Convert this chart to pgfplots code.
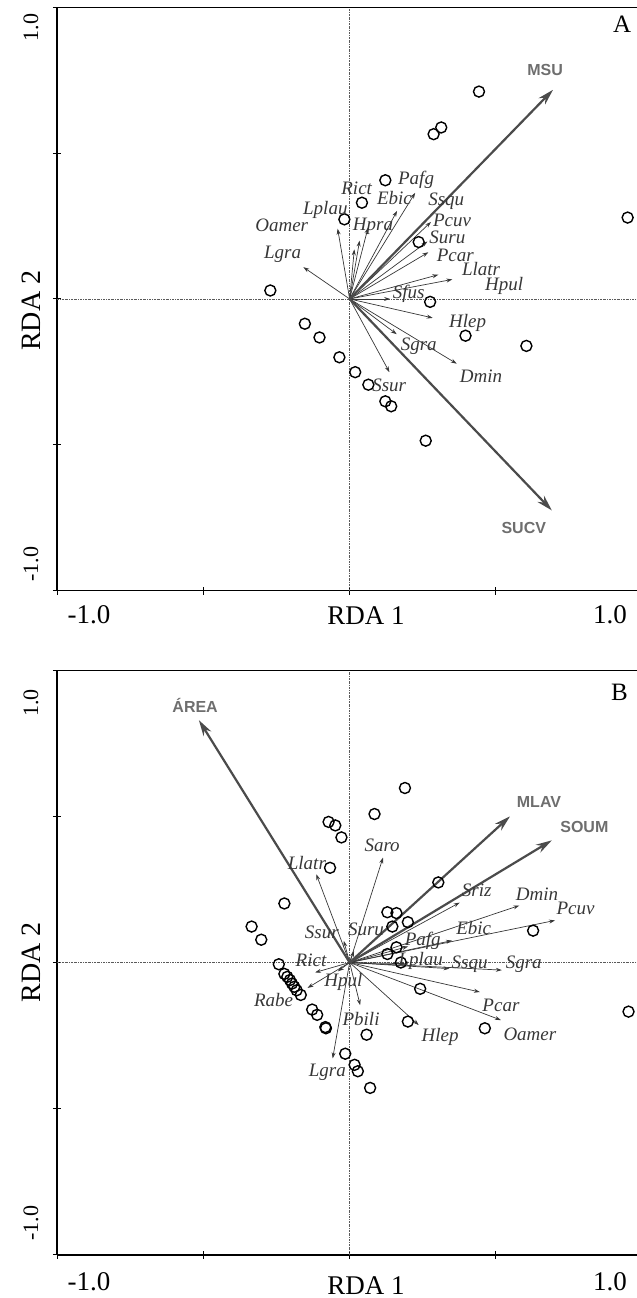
\documentclass[border=0pt]{standalone}
\usepackage{fontspec}
\setmainfont{Liberation Serif}
\newfontfamily\arialfont{Liberation Sans}
\usepackage{pgfplots}
\pgfplotsset{compat=1.18}
\usetikzlibrary{arrows.meta}
\definecolor{arr}{RGB}{55,55,55}
\definecolor{big}{RGB}{75,75,75}
\definecolor{envlab}{RGB}{110,110,110}
\definecolor{zero}{RGB}{90,90,90}

\pgfplotstableread{
x y
0.442 0.711
0.313 0.588
0.287 0.565
0.950 0.279
0.122 0.407
0.042 0.330
-0.018 0.273
0.236 0.195
-0.271 0.029
0.275 -0.010
-0.153 -0.085
-0.103 -0.132
0.396 -0.126
0.604 -0.161
-0.035 -0.200
0.019 -0.251
0.064 -0.294
0.122 -0.351
0.142 -0.368
0.260 -0.486
}\sitesA

\pgfplotstableread{
x y u v
0 0 -0.158 0.109
0 0 -0.041 0.241
0 0 0.016 0.170
0 0 0.034 0.200
0 0 0.063 0.245
0 0 0.162 0.302
0 0 0.224 0.364
0 0 0.278 0.264
0 0 0.266 0.197
0 0 0.269 0.160
0 0 0.303 0.083
0 0 0.351 0.067
0 0 0.138 0.000
0 0 0.284 -0.065
0 0 0.161 -0.121
0 0 0.366 -0.222
0 0 0.136 -0.251
}\speA

\pgfplotstableread{
x y u v
0 0 0.695 0.717
0 0 0.691 -0.725
}\envA

\pgfplotstableread{
x y lab
0.227 0.409 Pafg
0.024 0.381 Rict
0.153 0.346 Ebic
0.330 0.334 Ssqu
-0.083 0.305 Lplau
0.350 0.270 Pcuv
-0.232 0.252 Oamer
0.080 0.248 Hpra
0.334 0.210 Suru
0.361 0.150 Pcar
-0.229 0.153 Lgra
0.449 0.101 Llatr
0.528 0.045 Hpul
0.202 0.017 Sfus
0.403 -0.081 Hlep
0.236 -0.162 Sgra
0.449 -0.266 Dmin
0.135 -0.295 Ssur
}\labA

\pgfplotstableread{
x y lab
0.668 0.784 MSU
0.595 -0.785 SUCV
}\envlabA

\pgfplotstableread{
x y
0.189 0.597
0.085 0.508
-0.072 0.481
-0.049 0.469
-0.028 0.428
-0.067 0.324
0.303 0.274
-0.223 0.202
0.129 0.172
0.160 0.169
0.199 0.138
0.146 0.123
-0.335 0.123
-0.302 0.078
0.627 0.109
0.160 0.052
0.129 0.029
0.175 0.000
-0.242 -0.006
-0.223 -0.039
-0.213 -0.049
-0.204 -0.060
-0.197 -0.072
-0.189 -0.083
-0.181 -0.095
-0.167 -0.111
0.241 -0.090
-0.128 -0.161
-0.111 -0.179
-0.083 -0.221
-0.081 -0.225
0.199 -0.202
0.462 -0.225
0.953 -0.168
0.058 -0.247
-0.015 -0.312
0.017 -0.350
0.028 -0.372
0.070 -0.429
}\sitesB

\pgfplotstableread{
x y u v
0 0 0.114 0.359
0 0 -0.114 0.302
0 0 -0.020 0.074
0 0 0.015 0.040
0 0 0.376 0.205
0 0 0.580 0.195
0 0 0.702 0.144
0 0 0.350 0.075
0 0 0.200 0.055
0 0 0.190 -0.004
0 0 0.341 -0.021
0 0 0.520 -0.026
0 0 0.445 -0.101
0 0 0.517 -0.197
0 0 0.236 -0.214
0 0 0.036 -0.146
0 0 -0.058 -0.328
0 0 -0.118 -0.034
0 0 -0.144 -0.087
0 0 -0.040 -0.030
}\speB

\pgfplotstableread{
x y u v
0 0 -0.515 0.829
0 0 0.548 0.500
0 0 0.691 0.418
}\envB

\pgfplotstableread{
x y lab
0.111 0.402 Saro
-0.146 0.342 Llatr
0.434 0.248 Sriz
0.640 0.234 Dmin
0.772 0.184 Pcuv
0.424 0.119 Ebic
-0.095 0.102 Ssur
0.056 0.115 Suru
0.250 0.075 Pafg
-0.132 0.009 Rict
0.243 0.004 Lplau
0.410 -0.006 Ssqu
0.595 -0.006 Sgra
-0.021 -0.068 Hpul
-0.260 -0.128 Rabe
0.517 -0.146 Pcar
0.039 -0.193 Pbili
0.616 -0.244 Oamer
0.309 -0.254 Hlep
-0.076 -0.376 Lgra
}\labB

\pgfplotstableread{
x y lab
-0.528 0.880 ÁREA
0.647 0.548 MLAV
0.802 0.464 SOUM
}\envlabB

\pgfplotsset{
  rdastyle/.style={
    scale only axis, width=580bp,
    xmin=-1, xmax=0.982, ymin=-1, ymax=1,
    axis x line*=bottom, axis y line*=left,
    axis line style={line width=1.4bp, black},
    xtick={-1,-0.5,0,0.5}, ytick={-1,-0.5,0,0.5,1},
    xticklabels={}, yticklabels={},
    tick align=center, major tick length=8bp,
    tick style={line width=1bp, black},
    clip=false,
  },
  zeroline/.style={draw=zero, line width=0.6bp, dash pattern=on 2bp off 1bp on 0.6bp off 1bp},
  spe/.style={quiver={u=\thisrow{u},v=\thisrow{v}}, -{Stealth[length=6bp,width=4bp]}, draw=arr, line width=0.7bp},
  env/.style={quiver={u=\thisrow{u},v=\thisrow{v}}, -{Stealth[length=16bp,width=9bp]}, draw=big, line width=2.2bp},
  site/.style={only marks, mark=o, mark size=5.5bp, mark options={line width=1.4bp, draw=black}},
  labs/.style={only marks, mark=none, nodes near coords, point meta=explicit symbolic,
    nodes near coords style={anchor=center, inner sep=0pt, text=arr,
      font=\fontsize{19bp}{19bp}\selectfont\itshape}},
  envlabs/.style={only marks, mark=none, nodes near coords, point meta=explicit symbolic,
    nodes near coords style={anchor=center, inner sep=0pt, text=envlab,
      font=\arialfont\bfseries\fontsize{16bp}{16bp}\selectfont}},
}

\begin{document}
\begin{tikzpicture}
\useasboundingbox (0bp,0bp) rectangle (637bp,-1298bp);

% ---------------- Panel A ----------------
\begin{axis}[rdastyle, at={(57bp,-590.6bp)}, anchor=south west, height=583.3bp]
\addplot[zeroline] coordinates {(-1,0) (0.982,0)};
\addplot[zeroline] coordinates {(0,-1) (0,1)};
\draw[line width=1.4bp] (rel axis cs:0,1) -- (rel axis cs:1,1);
\addplot[spe] table[x=x,y=y] {\speA};
\addplot[env] table[x=x,y=y] {\envA};
\addplot[site] table[x=x,y=y] {\sitesA};
\addplot[labs] table[x=x,y=y,meta=lab] {\labA};
\addplot[envlabs] table[x=x,y=y,meta=lab] {\envlabA};
\node[font=\fontsize{25bp}{25bp}\selectfont] at (axis cs:0.931,0.942) {A};
\node[font=\fontsize{27bp}{27bp}\selectfont] at ([yshift=-24bp]axis cs:-0.891,-1) {-1.0};
\node[font=\fontsize{27bp}{27bp}\selectfont] at ([yshift=-24bp]axis cs:0.890,-1) {1.0};
\node[font=\fontsize{27bp}{27bp}\selectfont] at ([yshift=-25bp]axis cs:0.056,-1) {RDA 1};
\node[rotate=90, font=\fontsize{22bp}{22bp}\selectfont] at ([xshift=-26bp]axis cs:-1,0.930) {1.0};
\node[rotate=90, font=\fontsize{22bp}{22bp}\selectfont] at ([xshift=-26bp]axis cs:-1,-0.909) {-1.0};
\node[rotate=90, font=\fontsize{28bp}{28bp}\selectfont] at ([xshift=-26bp]axis cs:-1,-0.04) {RDA 2};
\end{axis}

% ---------------- Panel B ----------------
\begin{axis}[rdastyle, at={(57bp,-1254.8bp)}, anchor=south west, height=584.6bp]
\addplot[zeroline] coordinates {(-1,0) (0.982,0)};
\addplot[zeroline] coordinates {(0,-1) (0,1)};
\draw[line width=1.4bp] (rel axis cs:0,1) -- (rel axis cs:1,1);
\addplot[spe] table[x=x,y=y] {\speB};
\addplot[env] table[x=x,y=y] {\envB};
\addplot[site] table[x=x,y=y] {\sitesB};
\addplot[labs] table[x=x,y=y,meta=lab] {\labB};
\addplot[envlabs] table[x=x,y=y,meta=lab] {\envlabB};
\node[font=\fontsize{25bp}{25bp}\selectfont] at (axis cs:0.922,0.923) {B};
\node[font=\fontsize{27bp}{27bp}\selectfont] at ([yshift=-27bp]axis cs:-0.891,-1) {-1.0};
\node[font=\fontsize{27bp}{27bp}\selectfont] at ([yshift=-27bp]axis cs:0.890,-1) {1.0};
\node[font=\fontsize{27bp}{27bp}\selectfont] at ([yshift=-31bp]axis cs:0.056,-1) {RDA 1};
\node[rotate=90, font=\fontsize{22bp}{22bp}\selectfont] at ([xshift=-26bp]axis cs:-1,0.887) {1.0};
\node[rotate=90, font=\fontsize{22bp}{22bp}\selectfont] at ([xshift=-26bp]axis cs:-1,-0.892) {-1.0};
\node[rotate=90, font=\fontsize{28bp}{28bp}\selectfont] at ([xshift=-26bp]axis cs:-1,0.0) {RDA 2};
\end{axis}
\end{tikzpicture}
\end{document}
